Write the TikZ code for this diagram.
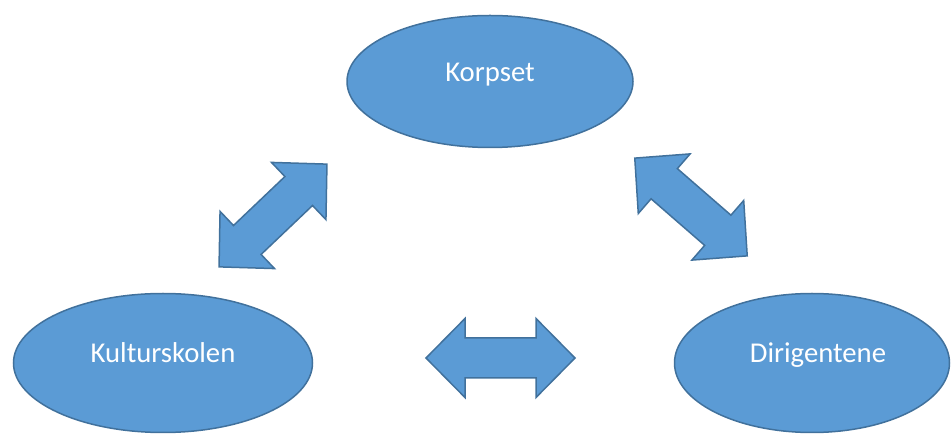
\documentclass[tikz,border=0pt]{standalone}
\usepackage{fontspec}
\setmainfont{Carlito}
\usetikzlibrary{shapes.geometric}
\definecolor{fillblue}{HTML}{5B9BD5}
\definecolor{edgeblue}{HTML}{41719C}
\tikzset{
  ell/.style={ellipse, draw=edgeblue, fill=fillblue, line width=1.5pt, inner sep=0pt},
  txt/.style={text=white, font=\fontsize{28.7}{34}\selectfont, anchor=base, inner sep=0pt},
  blockarrow/.style={draw=edgeblue, fill=fillblue, line width=1.5pt, line join=miter},
  dbl/.pic={\path[blockarrow] (-74.5,0) -- (-35.5,-39.5) -- (-35.5,-20) -- (35.5,-20)
     -- (35.5,-39.5) -- (74.5,0) -- (35.5,39.5) -- (35.5,20) -- (-35.5,20)
     -- (-35.5,39.5) -- cycle;}
}
\begin{document}
\begin{tikzpicture}[x=1pt,y=-1pt]
\useasboundingbox (0,0) rectangle (951,435);
\clip (0,0) rectangle (951,435);
% ellipses
\node[ell, minimum width=286, minimum height=132] (korpset) at (490,81.5) {};
\node[ell, minimum width=299, minimum height=139] (kultur) at (163,363) {};
\node[ell, minimum width=275, minimum height=139] (dirig) at (812,363) {};
% labels
\node[txt] (tkorpset) at (korpset.center) {Korpset};
\node[txt] (tkultur) at (kultur.center) {Kulturskolen};
\node[txt] (tdirig) at ([xshift=6]dirig.center) {Dirigentene};
% block arrows
\pic[rotate=43.6] (a1) at (273,215.5) {dbl};
\pic[rotate=-41] (a2) at (691,207) {dbl};
\pic (a3) at (500.5,358) {dbl};
\end{tikzpicture}
\end{document}
